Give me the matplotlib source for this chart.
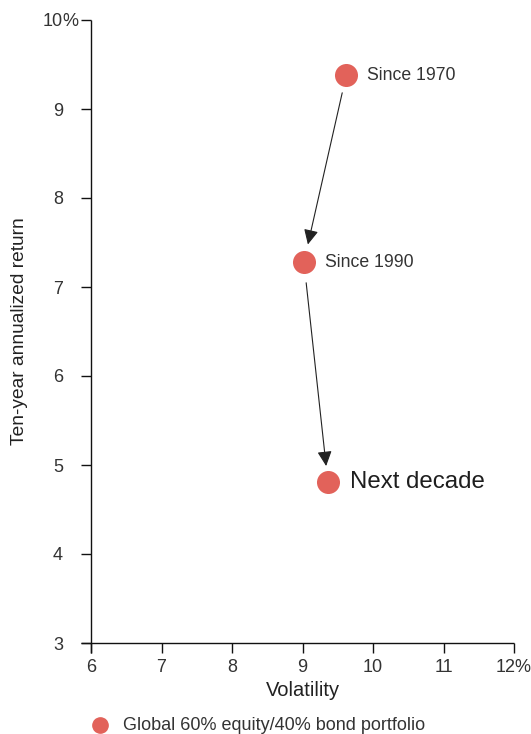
import matplotlib
matplotlib.use("Agg")
import matplotlib.pyplot as plt
from matplotlib.lines import Line2D

plt.rcParams['font.family'] = ['Liberation Sans', 'DejaVu Sans']

# Volatility (%) vs ten-year annualized return (%)
labels = ["Since 1970", "Since 1990", "Next decade"]
volatility = [9.62, 9.02, 9.36]
annual_return = [9.38, 7.28, 4.81]

x_ticks = [6, 7, 8, 9, 10, 11, 12]
y_ticks = [3, 4, 5, 6, 7, 8, 9, 10]
x_tick_labels = ["6", "7", "8", "9", "10", "11", "12%"]
y_tick_labels = ["3", "4", "5", "6", "7", "8", "9", "10"]

dot_color = "#e2625a"
text_color = "#333333"

fig = plt.figure(figsize=(5.31, 7.34), dpi=100)
ax = fig.add_axes([91 / 531, 1 - 643 / 734, 423 / 531, 623 / 734])

ax.scatter(volatility, annual_return, s=275, color=dot_color, zorder=3,
           linewidths=0)

# Text labels beside each point
for i, lab in enumerate(labels):
    big = lab == "Next decade"
    ax.annotate(lab, (volatility[i], annual_return[i]),
                xytext=(16 if big else 15, 0), textcoords="offset points",
                va="center", ha="left",
                fontsize=17.3 if big else 12.7,
                color="#1e1e1e" if big else text_color)

# Arrows linking the points in sequence
arrow_kw = dict(arrowstyle="-|>,head_length=0.45,head_width=0.22",
                color="#222222", lw=0.8, mutation_scale=20)
ax.annotate("", xy=(volatility[1], annual_return[1]),
            xytext=(volatility[0], annual_return[0]),
            arrowprops=dict(shrinkA=13, shrinkB=13, **arrow_kw))
ax.annotate("", xy=(volatility[2], annual_return[2]),
            xytext=(volatility[1], annual_return[1]),
            arrowprops=dict(shrinkA=15, shrinkB=11.5, **arrow_kw))

ax.set_xlim(x_ticks[0], x_ticks[-1])
ax.set_ylim(y_ticks[0], y_ticks[-1])
ax.set_xticks(x_ticks)
ax.set_yticks(y_ticks)
ax.set_xticklabels(x_tick_labels)
ax.set_yticklabels(y_tick_labels)

for side in ("top", "right"):
    ax.spines[side].set_visible(False)
for side in ("left", "bottom"):
    ax.spines[side].set_linewidth(1.0)
    ax.spines[side].set_color("#111111")
    ax.spines[side].set_capstyle("butt")

ax.tick_params(axis="both", direction="out", length=7.2, width=1.0,
               color="#111111", labelsize=13, labelcolor=text_color)
ax.tick_params(axis="y", pad=13)
ax.tick_params(axis="x", pad=4)

# extend the x spine left to meet the y tick marks
ax.spines["bottom"].set_bounds(x_ticks[0] - 10 / 70.5, x_ticks[-1])
ax.spines["left"].set_bounds(y_ticks[0] - 10 / 89.0, y_ticks[-1])

# percent sign trailing the top y tick label
ax.annotate("%", (0, y_ticks[-1]), xycoords=("axes fraction", "data"),
            xytext=(-20.3, 0), textcoords="offset points",
            ha="left", va="center_baseline", fontsize=13, color=text_color)

ax.set_xlabel("Volatility", fontsize=14.5, color="#222222", labelpad=4)
ax.set_ylabel("Ten-year annualized return", fontsize=13.8, color="#222222",
              labelpad=11)

# Legend row
fig.add_artist(Line2D([100 / 531], [1 - 725 / 734], marker="o",
                      markersize=11, color=dot_color, linestyle="none",
                      transform=fig.transFigure))
fig.text(123 / 531, 1 - 725 / 734, "Global 60% equity/40% bond portfolio",
         fontsize=13, color=text_color, ha="left", va="center")

fig.savefig("out.png", dpi=100)
